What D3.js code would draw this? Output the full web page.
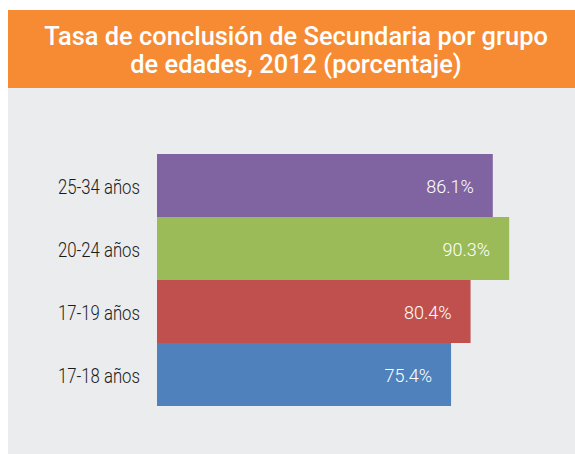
<!DOCTYPE html>
<html>
<head>
<meta charset="utf-8">
<script src="https://cdn.jsdelivr.net/npm/d3@7"></script>
<style>
  body { margin: 0; background: #fff; }
  text { font-family: Roboto, "DejaVu Sans", sans-serif; }
</style>
</head>
<body>
<script>
// datos del gráfico
const grupos = ["25-34 años", "20-24 años", "17-19 años", "17-18 años"];
const valores = [86.1, 90.3, 80.4, 75.4];
const colores = ["#8064a2", "#9bbb59", "#c0504d", "#4f81bd"];
const titulo = ["Tasa de conclusión de Secundaria por grupo", "de edades, 2012 (porcentaje)"];

const ancho = 575, alto = 454;

const svg = d3.select("body").append("svg")
  .attr("width", ancho)
  .attr("height", alto);

// fondo gris y banda naranja del título
svg.append("rect").attr("x", 8).attr("y", 88).attr("width", 580).attr("height", 380).attr("fill", "#ebecee");
svg.append("rect").attr("x", 8).attr("y", 10).attr("width", 580).attr("height", 78).attr("fill", "#f68b33");

// título, ajustado al ancho de la primera línea
const lineas = svg.append("g").selectAll("text")
  .data(titulo)
  .join("text")
  .attr("x", 296)
  .attr("y", (d, i) => 45 + i * 28)
  .attr("text-anchor", "middle")
  .attr("fill", "#fff")
  .attr("font-weight", 500)
  .attr("font-size", 24)
  .text(d => d);
const w0 = lineas.node().getComputedTextLength();
lineas.attr("font-size", Math.min(26, 24 * 504 / w0));

// escalas
const x = d3.scaleLinear().domain([0, 100]).range([157, 547]);
const y = d3.scaleBand().domain(grupos).range([154, 406]).padding(0);

// barras
svg.selectAll("rect.barra")
  .data(valores)
  .join("rect")
  .attr("class", "barra")
  .attr("x", x(0))
  .attr("y", (d, i) => y(grupos[i]))
  .attr("width", d => x(d) - x(0))
  .attr("height", y.bandwidth())
  .attr("fill", (d, i) => colores[i]);

// etiquetas de valor
svg.selectAll("text.valor")
  .data(valores)
  .join("text")
  .attr("class", "valor")
  .attr("x", d => x(d) - 19)
  .attr("y", (d, i) => y(grupos[i]) + y.bandwidth() / 2 + 1)
  .attr("dy", "0.35em")
  .attr("text-anchor", "end")
  .attr("fill", "#fff")
  .attr("font-weight", 300)
  .attr("font-size", 18)
  .text(d => d.toFixed(1) + "%");

// etiquetas de categoría (letra algo condensada, alineadas a la izquierda)
const etiquetas = svg.selectAll("text.grupo")
  .data(grupos)
  .join("text")
  .attr("class", "grupo")
  .attr("dy", "0.35em")
  .attr("fill", "#1a1a1a")
  .attr("font-weight", 300)
  .attr("font-size", 20)
  .text(d => d);
const sx = Math.min(1, 82 / etiquetas.node().getComputedTextLength());
etiquetas.attr("transform", d => `translate(58,${y(d) + y.bandwidth() / 2 + 1}) scale(${sx},1)`);
</script>
</body>
</html>
